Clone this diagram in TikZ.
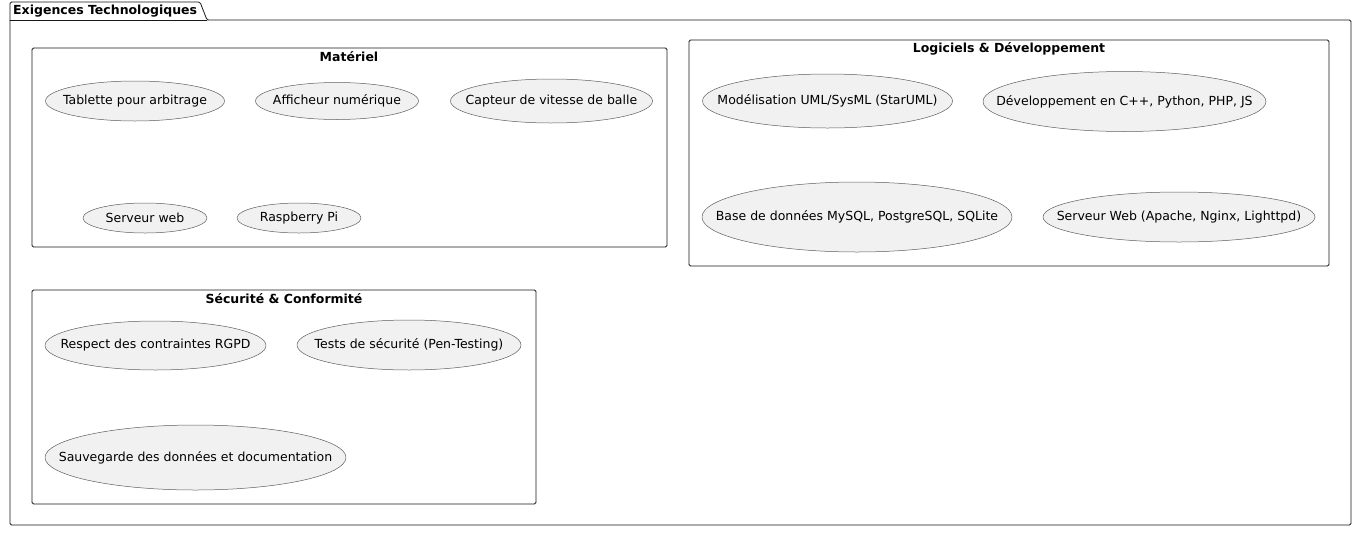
\documentclass[tikz,border=0pt]{standalone}
\usepackage{fontspec}
\setmainfont{DejaVu Sans}
\usetikzlibrary{shapes.geometric}
\definecolor{ucfill}{HTML}{F1F1F1}
\definecolor{edge}{HTML}{181818}
\begin{document}
\begin{tikzpicture}[x=1pt, y=-1pt, line join=round, line cap=round,
		font=\fontsize{12.5}{15}\selectfont,
		usecase/.style={ellipse, draw=edge!70, fill=ucfill, line width=.5pt, inner sep=0pt, label={center:#1}},
		group/.style={draw=edge, line width=.8pt, rounded corners=1.5pt},
		grouptitle/.style={font=\fontsize{12.5}{15}\selectfont\bfseries, inner sep=0pt}]
				\useasboundingbox (0,0) rectangle (1360,536);
				% paquet principal
				\draw[group] (10,20) -- (10,2) -- (200,2) -- (207,20) -- (1351,20) -- (1351,525) -- (10,525) -- cycle;
				\draw[edge, line width=.8pt] (10,20) -- (207,20);
				\node[grouptitle, anchor=west] (exigences) at (13,11) {Exigences Technologiques};
				% Materiel
				\draw[group] (32,48) rectangle (667,247);
				\node[grouptitle] (materiel) at (349,57) {Matériel};
				\node[usecase={Tablette pour arbitrage}, minimum width=179pt, minimum height=40pt] (tablette) at (135,101) {};
				\node[usecase={Afficheur numérique}, minimum width=163pt, minimum height=37pt] (afficheur) at (337,101) {};
				\node[usecase={Capteur de vitesse de balle}, minimum width=202pt, minimum height=44pt] (capteur) at (551.5,101) {};
				\node[usecase={Serveur web}, minimum width=124pt, minimum height=30pt] (serveurweb) at (145,218) {};
				\node[usecase={Raspberry Pi}, minimum width=124pt, minimum height=30pt] (raspberry) at (299,218) {};
				% Logiciels
				\draw[group] (689,40) rectangle (1329,266);
				\node[grouptitle] (logiciels) at (1009,49) {Logiciels \& Développement};
				\node[usecase={Modélisation UML/SysML (StarUML)}, minimum width=250pt, minimum height=54pt] (modelisation) at (827.5,101) {};
				\node[usecase={Développement en C++, Python, PHP, JS}, minimum width=283pt, minimum height=60pt] (developpement) at (1124.5,101.5) {};
				\node[usecase={Base de données MySQL, PostgreSQL, SQLite}, minimum width=310pt, minimum height=70pt] (basedonnees) at (857,217) {};
				\node[usecase={Serveur Web (Apache, Nginx, Lighttpd)}, minimum width=272pt, minimum height=50pt] (serveurhttp) at (1179,217) {};
				% Securite
				\draw[group] (32,290) rectangle (536,504);
				\node[grouptitle] (securite) at (284,299) {Sécurité \& Conformité};
				\node[usecase={Respect des contraintes RGPD}, minimum width=221pt, minimum height=49pt] (rgpd) at (155.5,345.5) {};
				\node[usecase={Tests de sécurité (Pen-Testing)}, minimum width=224pt, minimum height=50pt] (pentest) at (409,345) {};
				\node[usecase={Sauvegarde des données et documentation}, minimum width=301pt, minimum height=65pt] (sauvegarde) at (195.5,457.5) {};
			\end{tikzpicture}
\end{document}
